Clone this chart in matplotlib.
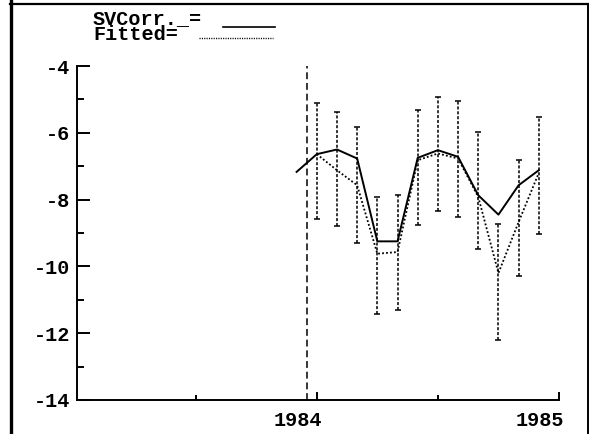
import matplotlib
matplotlib.use("Agg")
import matplotlib.pyplot as plt
from matplotlib.lines import Line2D
from matplotlib.ticker import FixedLocator
from matplotlib.transforms import ScaledTranslation

plt.rcParams["axes.unicode_minus"] = False

# Monthly observations (month offset from January 1984)
month_offsets = [-1, 0, 1, 2, 3, 4, 5, 6, 7, 8, 9, 10, 11]
svcorr = [-7.17, -6.64, -6.50, -6.77, -9.25, -9.25, -6.75, -6.52, -6.72,
          -7.87, -8.45, -7.57, -7.12]

# Fitted curve and its error band, January-December 1984
fit_offsets = [0, 1, 2, 3, 4, 5, 6, 7, 8, 9, 10, 11]
fitted = [-6.64, -7.12, -7.57, -9.62, -9.57, -6.82, -6.62, -6.77, -7.92,
          -10.20, -8.67, -7.20]
err_upper = [-5.10, -5.39, -5.82, -7.92, -7.85, -5.32, -4.92, -5.05, -5.97,
             -8.74, -6.82, -5.54]
err_lower = [-8.57, -8.79, -9.30, -11.42, -11.30, -8.75, -8.34, -8.52, -9.47,
             -12.20, -10.30, -9.02]

marker_year = 1983.96
y_ticks = [-4, -6, -8, -10, -12, -14]
y_minor = [-5, -7, -9, -11, -13]
x_major = [1984, 1985]
x_minor = [1983.5, 1984.5]
legend_labels = ["SVCorr._=", "Fitted="]

W, H = 589, 434
FONT = dict(family="Liberation Mono", weight="bold", size=14.5)

fig = plt.figure(figsize=(W / 100, H / 100), dpi=100)
ax = fig.add_axes([77 / W, 1 - 400 / H, (559 - 77) / W, (400 - 66) / H])

t_obs = [1984 + m / 12 for m in month_offsets]
t_fit = [1984 + m / 12 for m in fit_offsets]

ax.axvline(marker_year, color="black", lw=1.1, linestyle=(0, (4.5, 2.5)))

ax.vlines(t_fit, err_lower, err_upper, colors="black", lw=1.1,
          linestyles=[(0, (2, 1.2))])
ax.plot(t_fit, err_upper, linestyle="none", marker="_", ms=5, mew=1.1,
        color="black")
ax.plot(t_fit, err_lower, linestyle="none", marker="_", ms=5, mew=1.1,
        color="black")

ax.plot(t_obs, svcorr, color="black", lw=1.4)
ax.plot(t_fit, fitted, color="black", lw=1.3, linestyle=(0, (1, 1.2)))

ax.set_xlim(1983.01, 1985)
ax.set_ylim(-14, -4)
ax.spines["top"].set_visible(False)
ax.spines["right"].set_visible(False)
for s in ("left", "bottom"):
    ax.spines[s].set_linewidth(1.4)

ax.yaxis.set_major_locator(FixedLocator(y_ticks))
ax.yaxis.set_minor_locator(FixedLocator(y_minor))
ax.set_yticklabels([f"{v:d}" for v in y_ticks], fontdict=FONT)
ax.tick_params(axis="y", which="major", direction="in", length=9, width=1.4,
               pad=5)
ax.tick_params(axis="y", which="minor", direction="in", length=5, width=1.4)

ax.xaxis.set_major_locator(FixedLocator(x_major))
ax.xaxis.set_minor_locator(FixedLocator(x_minor))
ax.set_xticklabels([str(v) for v in x_major], fontdict=FONT)
ax.tick_params(axis="x", which="major", direction="in", length=6, width=1.4,
               pad=8)
ax.tick_params(axis="x", which="minor", direction="in", length=3.5, width=1.4)
# year labels sit just left of their ticks
shift = ScaledTranslation(0.05, 0, fig.dpi_scale_trans)
for lab in ax.get_xticklabels():
    lab.set_horizontalalignment("right")
    lab.set_transform(lab.get_transform() + shift)

# Legend drawn in the header: two stacked labels with line samples
fig.text(93 / W, 1 - 40 / H, "\n".join(legend_labels), ha="left",
         va="baseline", linespacing=0.8, **FONT)
fig.add_artist(Line2D([223 / W, 275 / W], [1 - 26.5 / H, 1 - 26.5 / H],
                      transform=fig.transFigure, color="black", lw=1.2))
fig.add_artist(Line2D([199 / W, 273 / W], [1 - 38 / H, 1 - 38 / H],
                      transform=fig.transFigure, color="black", lw=1.0,
                      linestyle=(0, (0.8, 0.9))))

# Window frame
fig.add_artist(Line2D([11 / W, 11 / W], [0, 1], transform=fig.transFigure,
                      color="black", lw=2.4))
fig.add_artist(Line2D([10 / W, 588 / W], [1 - 4 / H, 1 - 4 / H],
                      transform=fig.transFigure, color="black", lw=1.6))
fig.add_artist(Line2D([587.5 / W, 587.5 / W], [0, 1 - 4 / H],
                      transform=fig.transFigure, color="black", lw=1.4))

fig.savefig("out.png", dpi=100)
